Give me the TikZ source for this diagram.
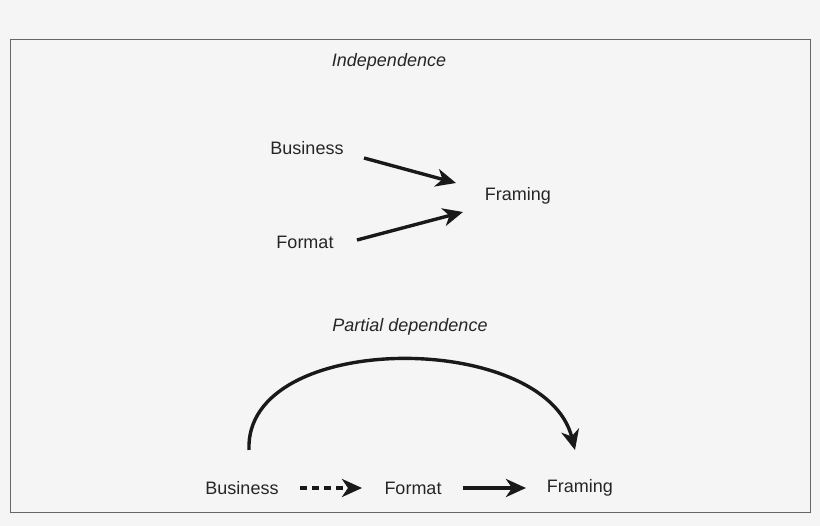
\documentclass[tikz,border=0pt]{standalone}
\usepackage{fontspec}
\setmainfont{Liberation Sans}
\usetikzlibrary{arrows.meta}
\begin{document}
\begin{tikzpicture}[x=1pt,y=-1pt,
  lbl/.style={font=\fontsize{18}{21}\selectfont, text=black!85},
  ttl/.style={font=\fontsize{18}{21}\selectfont\itshape, text=black!85},
  arr/.style={line width=3.4pt, -{Stealth[length=20pt,width=18pt,inset=6pt]}, black!90}]
\fill[black!4] (0,0) rectangle (820,526);
\useasboundingbox (0,0) rectangle (820,526);
\draw[black!60, line width=1pt] (10,40) rectangle (810,513);
\node[ttl] (t1) at (389,62) {Independence};
\node[lbl] (b1) at (307,148) {Business};
\node[lbl] (fr1) at (518,196) {Framing};
\node[lbl] (fo1) at (305,242) {Format};
\coordinate (a1s) at (364,158); \coordinate (a1e) at (456,183);
\coordinate (a2s) at (357,240); \coordinate (a2e) at (463,212);
\draw[arr] (a1s) -- (a1e);
\draw[arr] (a2s) -- (a2e);
\node[ttl] (t2) at (410,327) {Partial dependence};
\node[lbl] (b2) at (242,488) {Business};
\node[lbl] (fo2) at (413,488) {Format};
\node[lbl] (fr2) at (580,488) {Framing};
\draw[arr, dash pattern=on 7pt off 5pt] (300,488) coordinate (d1) -- (362,488) coordinate (d2);
\draw[arr] (463,488) coordinate (s1) -- (526,488) coordinate (s2);
\coordinate (c1) at (249,450); \coordinate (c2) at (575,450);
\draw[arr] (c1) .. controls (244,330) and (545,330) .. (c2);
\end{tikzpicture}
\end{document}
